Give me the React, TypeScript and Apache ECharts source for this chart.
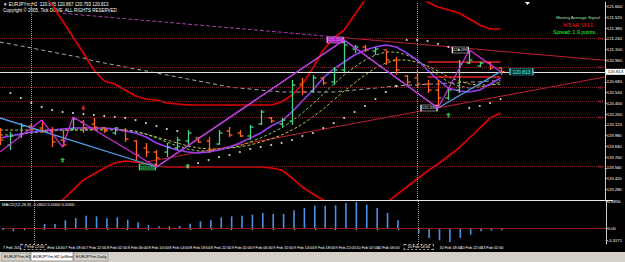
import React, { useEffect, useRef } from "react";
import * as echarts from "echarts";

// ---------- data ----------
const times = [
  "7 Feb 2017", "7 Feb 08:00", "7 Feb 10:00", "7 Feb 12:00", "7 Feb 14:00", "7 Feb 16:00", "7 Feb 18:00", "7 Feb 20:00", "7 Feb 22:00",
  "8 Feb 00:00", "8 Feb 02:00", "8 Feb 04:00", "8 Feb 06:00", "8 Feb 08:00", "8 Feb 10:00", "8 Feb 12:00", "8 Feb 14:00", "8 Feb 16:00",
  "8 Feb 18:00", "8 Feb 20:00", "8 Feb 22:00", "9 Feb 00:00", "9 Feb 02:00", "9 Feb 04:00", "9 Feb 06:00", "9 Feb 08:00", "9 Feb 10:00",
  "9 Feb 12:00", "9 Feb 14:00", "9 Feb 16:00", "9 Feb 18:00", "9 Feb 20:00", "9 Feb 22:00", "10 Feb 00:00", "10 Feb 02:00", "10 Feb 04:00",
  "10 Feb 06:00", "10 Feb 08:00", "10 Feb 10:00", "10 Feb 12:00", "10 Feb 14:00", "10 Feb 16:00", "10 Feb 18:00", "10 Feb 20:00",
  "10 Feb 22:00", "13 Feb 00:00", "13 Feb 02:00", "13 Feb 04:00", "13 Feb 06:00",
];
const futureSlots = ["", "", "", "", "", "", "", "", "", ""];
const hiddenTimeLabels = ["7 Feb 10:00", "10 Feb 10:00", "10 Feb 14:00"];

const openP = [120.026, 119.857, 119.974, 120.104, 120.078, 120.039, 119.922, 120.065, 120.156, 120.130, 120.078, 120.013, 120.052, 119.909, 119.818, 119.765, 119.765, 119.818, 119.909, 119.948, 119.909, 119.870, 120.039, 120.013, 119.974, 120.130, 120.209, 120.130, 120.169, 120.651, 120.560, 120.730, 120.678, 120.834, 121.108, 121.134, 121.081, 121.095, 120.964, 120.756, 120.730, 120.651, 120.573, 120.469, 120.573, 120.925, 120.886, 120.925, 120.860];
const highP = [120.078, 120.026, 120.143, 120.143, 120.182, 120.091, 120.052, 120.222, 120.182, 120.209, 120.091, 120.091, 120.078, 119.922, 119.883, 119.791, 119.883, 119.961, 120.052, 119.961, 119.961, 120.052, 120.091, 120.052, 120.117, 120.313, 120.222, 120.209, 120.704, 120.730, 120.769, 120.743, 120.873, 121.225, 121.160, 121.160, 121.134, 121.095, 121.003, 120.769, 120.834, 120.704, 120.704, 120.612, 120.964, 121.095, 120.938, 120.938, 120.865];
const lowP = [119.857, 119.791, 119.948, 120.052, 120.013, 119.831, 119.831, 120.052, 120.013, 120.052, 120.013, 119.987, 119.896, 119.661, 119.700, 119.570, 119.700, 119.791, 119.831, 119.883, 119.752, 119.857, 119.961, 119.961, 119.922, 120.117, 120.143, 120.091, 120.117, 120.508, 120.534, 120.638, 120.638, 120.808, 121.055, 121.068, 121.029, 120.899, 120.769, 120.638, 120.599, 120.534, 120.339, 120.443, 120.534, 120.912, 120.873, 120.834, 120.769];
const closeP = [119.922, 119.974, 120.104, 120.065, 120.039, 119.896, 119.857, 120.196, 120.078, 120.091, 120.039, 120.078, 119.935, 119.726, 119.765, 119.687, 119.831, 119.922, 120.013, 119.896, 119.791, 120.013, 119.987, 119.974, 120.091, 120.287, 120.169, 120.182, 120.638, 120.547, 120.730, 120.665, 120.834, 121.160, 121.134, 121.095, 121.108, 120.964, 120.834, 120.678, 120.651, 120.573, 120.469, 120.573, 120.912, 120.964, 120.925, 120.860, 120.813];

const upperBand = [122.528, 122.398, 122.267, 122.059, 121.850, 121.681, 121.472, 121.264, 121.055, 120.834, 120.691, 120.651, 120.573, 120.495, 120.456, 120.443, 120.404, 120.391, 120.378, 120.378, 120.378, 120.378, 120.378, 120.378, 120.378, 120.378, 120.378, 120.417, 120.508, 120.651, 120.860, 121.095, 121.251, 121.355, 121.551, 121.746, 121.876, 121.941, 121.941, 121.902, 121.824, 121.720, 121.655, 121.616, 121.577, 121.498, 121.420, 121.368, 121.368];
const lowerBand = [118.358, 118.489, 118.619, 118.814, 118.984, 119.075, 119.140, 119.270, 119.401, 119.479, 119.557, 119.622, 119.648, 119.635, 119.609, 119.583, 119.570, 119.570, 119.570, 119.570, 119.570, 119.570, 119.570, 119.570, 119.570, 119.570, 119.557, 119.531, 119.427, 119.309, 119.218, 119.140, 119.049, 118.958, 118.932, 118.906, 118.984, 119.101, 119.205, 119.309, 119.414, 119.518, 119.609, 119.713, 119.818, 119.948, 120.078, 120.209, 120.274];

const maPurple = [119.948, 119.974, 120.000, 120.026, 120.039, 120.052, 120.065, 120.078, 120.078, 120.078, 120.078, 120.065, 120.039, 120.013, 119.961, 119.883, 119.831, 119.791, 119.765, 119.752, 119.765, 119.791, 119.831, 119.883, 119.948, 120.013, 120.104, 120.169, 120.287, 120.430, 120.573, 120.730, 120.847, 120.938, 121.029, 121.095, 121.134, 121.160, 121.134, 121.055, 120.964, 120.834, 120.704, 120.599, 120.560, 120.547, 120.573, 120.651, 120.730];
const maGreen = [119.987, 119.987, 120.000, 120.013, 120.026, 120.039, 120.052, 120.052, 120.052, 120.065, 120.065, 120.065, 120.052, 120.039, 120.000, 119.948, 119.896, 119.844, 119.805, 119.779, 119.779, 119.791, 119.818, 119.844, 119.896, 119.948, 120.013, 120.078, 120.169, 120.274, 120.391, 120.521, 120.651, 120.769, 120.873, 120.964, 121.029, 121.068, 121.068, 121.029, 120.964, 120.873, 120.769, 120.678, 120.625, 120.599, 120.612, 120.638, 120.678];
const maYellow = [120.052, 120.052, 120.052, 120.052, 120.052, 120.052, 120.052, 120.052, 120.052, 120.052, 120.052, 120.052, 120.039, 120.026, 120.000, 119.961, 119.922, 119.883, 119.844, 119.818, 119.805, 119.805, 119.818, 119.831, 119.857, 119.896, 119.935, 119.987, 120.052, 120.130, 120.222, 120.326, 120.443, 120.560, 120.665, 120.769, 120.860, 120.925, 120.964, 120.964, 120.938, 120.886, 120.821, 120.743, 120.691, 120.651, 120.638, 120.638, 120.651];
const maGray = [121.199, 121.173, 121.147, 121.121, 121.095, 121.068, 121.042, 121.016, 120.990, 120.951, 120.925, 120.899, 120.873, 120.847, 120.821, 120.795, 120.769, 120.743, 120.717, 120.691, 120.665, 120.638, 120.612, 120.599, 120.586, 120.573, 120.560, 120.547, 120.547, 120.547, 120.547, 120.547, 120.547, 120.560, 120.573, 120.586, 120.599, 120.612, 120.625, 120.638, 120.638, 120.651, 120.651, 120.665, 120.665, 120.678, 120.678, 120.691, 120.691];

const sar = [null, 120.534, 120.469, 120.404, 120.352, 120.313, 120.287, 120.274, 120.261, 120.248, 120.235, 120.222, 120.209, 120.182, 120.143, 120.104, 120.065, 120.039, 119.570, 119.622, 119.661, 119.700, 119.726, 119.765, 119.805, 119.831, 119.857, 119.883, 119.922, 119.974, 120.013, 120.078, 120.143, 120.209, 120.287, 120.365, 120.456, 120.547, 120.625, 121.225, 121.225, 121.212, 121.173, 121.134, 121.095, 120.339, 120.365, 120.404, 120.456];

const macd = [-0.039, -0.086, -0.026, 0.008, 0.104, 0.104, 0.200, 0.260, 0.320, 0.304, 0.252, 0.278, 0.216, 0.148, 0.078, 0.044, 0.044, 0.052, 0.112, 0.174, 0.200, 0.278, 0.304, 0.320, 0.346, 0.390, 0.364, 0.364, 0.460, 0.520, 0.580, 0.580, 0.590, 0.650, 0.676, 0.606, 0.520, 0.390, 0.200, -0.013, -0.130, -0.260, -0.320, -0.372, -0.260, -0.174, -0.086, -0.070, -0.060];

const zigBlue = [[0, 120.209], [15, 119.570], [33, 121.225], [42, 120.339], [48, 120.813]];
const zigMagenta = [[0, 119.765], [4, 120.182], [6, 119.831], [7, 120.222], [15, 119.570], [33, 121.225], [42, 120.339], [45, 121.095], [48, 120.813]];

const buyArrows = [[6, 119.661], [18, 119.583], [43, 120.248]];
const sellArrows = [[8, 120.339]];

const pivotNames = ["R1", "PP", "S1", "S2", "S3", "S4"];
const pivotValues = [121.251, 120.873, 120.612, 120.430, 120.222, 119.583];

const dailyLines = [120.938, 120.743];
const downTrend = [[6, 121.573], [33, 121.255]];
const downTrendExt = [[33, 121.255], [58, 120.960]];
const upTrend = [[14, 119.635], [58, 120.743]];

const lastPrice = 120.813;
const macdLabels = [0.6856, 0, -0.3171];
const vLines = [3, 40];
const vLineLabels = ["7 Feb 12:00", "10 Feb 14:00"];

const UP = "#46d48a";
const DOWN = "#ff6424";
const FONT = "'Liberation Sans Narrow','Liberation Sans',sans-serif";

export default function App() {
  const ref = useRef<HTMLDivElement>(null);
  useEffect(() => {
    if (!ref.current) return;
    const chart = echarts.init(ref.current, null, { renderer: "svg" });
    const categories = [...times, ...futureSlots];
    const ohlc = times.map((_, i) => [i, openP[i], highP[i], lowP[i], closeP[i]]);
    const idx = (arr: (number | null)[]) => arr.map((v, i) => [i, v]);

    const zigLabel = (coord: number[], color: string, bg: string) => ({
      coord,
      symbol: "rect",
      symbolSize: [16, 6],
      symbolOffset: [-9, 0],
      itemStyle: { color: bg, borderColor: color, borderWidth: 0.8 },
      label: { show: true, position: "inside", formatter: coord[1].toFixed(3), color, fontSize: 4, fontFamily: FONT },
    });

    const option: any = {
      animation: false,
      backgroundColor: "#000",
      grid: [
        { left: 0, top: 2, width: 613, height: 198 },
        { left: 0, top: 201, width: 613, height: 43 },
      ],
      xAxis: [
        { type: "category", gridIndex: 0, data: categories, boundaryGap: false, axisLine: { show: false }, axisTick: { show: false }, axisLabel: { show: false } },
        {
          type: "category", gridIndex: 1, data: categories, boundaryGap: false,
          axisLine: { show: true, lineStyle: { color: "#bbb", width: 1 } },
          axisTick: { show: true, length: 2, interval: (i: number, v: string) => i % 2 === 0 && v !== "", lineStyle: { color: "#bbb" } },
          axisLabel: {
            show: true, color: "#fff", fontSize: 3.8, fontFamily: FONT, align: "left", margin: 2, hideOverlap: false,
            interval: (i: number, v: string) => i % 2 === 0 && v !== "" && !hiddenTimeLabels.includes(v),
          },
        },
      ],
      yAxis: [
        {
          type: "value", gridIndex: 0, position: "right", min: 119.14, max: 121.72, interval: 0.14,
          axisLine: { show: true, lineStyle: { color: "#ccc" } },
          axisTick: { show: true, length: 2, lineStyle: { color: "#ccc" } },
          axisLabel: { color: "#fff", fontSize: 4.2, fontFamily: FONT, margin: 2, showMinLabel: false, showMaxLabel: false, formatter: (v: number) => v.toFixed(3) },
          splitLine: { show: false },
        },
        {
          type: "value", gridIndex: 1, position: "right", min: -0.416, max: 0.702,
          axisLine: { show: true, lineStyle: { color: "#ccc" } },
          axisTick: { show: true, length: 2, customValues: macdLabels, lineStyle: { color: "#ccc" } },
          axisLabel: { color: "#fff", fontSize: 4.2, fontFamily: FONT, margin: 2, customValues: macdLabels, formatter: (v: number) => (v === 0 ? "0.00" : v.toFixed(4)) },
          splitLine: { show: false },
        },
      ],
      series: [
        {
          name: "upperBand", type: "line", xAxisIndex: 0, yAxisIndex: 0, data: upperBand, showSymbol: false, z: 2,
          lineStyle: { color: "#e00000", width: 1.7 },
          markLine: {
            silent: true, symbol: "none",
            lineStyle: { color: "#7a1f2c", type: "dotted", width: 1 },
            label: { show: true, position: "insideEnd", color: "#a8304a", fontSize: 4, fontFamily: FONT, distance: 2 },
            data: pivotValues.map((v, k) => ({ yAxis: v, name: pivotNames[k], label: { formatter: pivotNames[k] } })),
          },
        },
        { name: "lowerBand", type: "line", xAxisIndex: 0, yAxisIndex: 0, data: lowerBand, showSymbol: false, z: 2, lineStyle: { color: "#e00000", width: 1.7 } },
        { name: "maGray", type: "line", data: maGray, showSymbol: false, z: 2, lineStyle: { color: "#a8a8a8", width: 1, type: [4, 3] } },
        { name: "maYellow", type: "line", data: maYellow, showSymbol: false, z: 3, lineStyle: { color: "#c8b83a", width: 1, type: [3, 2] } },
        { name: "maGreen", type: "line", data: maGreen, showSymbol: false, z: 3, lineStyle: { color: "#7ccc6a", width: 1, type: [3, 2] } },
        { name: "maPurple", type: "line", data: maPurple, showSymbol: false, z: 4, lineStyle: { color: "#9a3cf0", width: 1.6 } },
        { name: "downTrend", type: "line", data: downTrend, showSymbol: false, z: 2, lineStyle: { color: "#a040a8", width: 1, type: [4, 2] } },
        { name: "downTrendExt", type: "line", data: downTrendExt, showSymbol: false, z: 2, lineStyle: { color: "#c02030", width: 1 } },
        { name: "upTrend", type: "line", data: upTrend, showSymbol: false, z: 2, lineStyle: { color: "#c02030", width: 1 } },
        ...dailyLines.map((v) => ({ type: "line", data: [[41, v], [48, v]], showSymbol: false, z: 3, lineStyle: { color: "#e82020", width: 1.4 } })),
        {
          name: "price", type: "line", data: [], showSymbol: false,
          markLine: {
            silent: true, symbol: "none",
            lineStyle: { color: "#e0e0e0", type: "solid", width: 1 },
            label: { show: true, position: "end", formatter: lastPrice.toFixed(3), color: "#000", backgroundColor: "#fff", fontSize: 4.2, fontFamily: FONT, padding: [1, 2], distance: 1 },
            data: [{ yAxis: lastPrice }],
          },
          markPoint: {
            silent: true,
            data: [{
              coord: [50, lastPrice], symbol: "rect", symbolSize: [23, 7],
              itemStyle: { color: "#003a3a", borderColor: "#3cc8c8", borderWidth: 0.8 },
              label: { show: true, position: "inside", formatter: lastPrice.toFixed(3), color: "#5ff0f0", fontSize: 5, fontFamily: FONT },
            }],
          },
        },
        {
          name: "sar", type: "scatter", data: idx(sar), symbol: "circle", symbolSize: 2.2, z: 5,
          itemStyle: { color: "#f0f0d8" },
        },
        { name: "zigBlue", type: "line", data: zigBlue, showSymbol: false, z: 6, lineStyle: { color: "#4f9fe8", width: 1.3 } },
        {
          name: "zigMagenta", type: "line", data: zigMagenta, showSymbol: false, z: 6, lineStyle: { color: "#d22ad8", width: 1.3 },
          markPoint: {
            silent: true,
            data: [
              zigLabel([15, 119.570], "#46e070", "#0a3a14"),
              zigLabel([33, 121.225], "#e8a0f0", "#a020b0"),
              zigLabel([42, 120.339], "#f0f0f0", "#000"),
              zigLabel([45, 121.095], "#f0f0f0", "#000"),
            ],
          },
        },
        {
          name: "bars", type: "custom", xAxisIndex: 0, yAxisIndex: 0, data: ohlc, z: 5,
          encode: { x: 0, y: [1, 2, 3, 4] },
          renderItem: (params: any, api: any) => {
            const i = api.value(0);
            const o = api.coord([i, api.value(1)]);
            const h = api.coord([i, api.value(2)]);
            const l = api.coord([i, api.value(3)]);
            const c = api.coord([i, api.value(4)]);
            const col = api.value(4) >= api.value(1) ? UP : DOWN;
            const x = Math.round(o[0]) + 0.5;
            const st = { stroke: col, lineWidth: 1.3 };
            return {
              type: "group",
              children: [
                { type: "line", shape: { x1: x, y1: h[1], x2: x, y2: l[1] }, style: st },
                { type: "line", shape: { x1: x - 3, y1: o[1], x2: x, y2: o[1] }, style: st },
                { type: "line", shape: { x1: x, y1: c[1], x2: x + 3, y2: c[1] }, style: st },
              ],
            };
          },
          markLine: {
            silent: true, symbol: "none", label: { show: false },
            lineStyle: { color: "#9a9a9a", type: "dotted", width: 1 },
            data: vLines.map((v) => ({ xAxis: v })),
          },
        },
        {
          name: "buy", type: "scatter", data: buyArrows, z: 7, symbolSize: 5,
          symbol: "path://M5,0 L10,5 L7,5 L7,10 L3,10 L3,5 L0,5 Z", itemStyle: { color: "#3ee05a" },
        },
        {
          name: "sell", type: "scatter", data: sellArrows, z: 7, symbolSize: 5, symbolRotate: 180,
          symbol: "path://M5,0 L10,5 L7,5 L7,10 L3,10 L3,5 L0,5 Z", itemStyle: { color: "#ff3030" },
        },
        {
          name: "MACD", type: "bar", xAxisIndex: 1, yAxisIndex: 1, data: macd, barWidth: 1.6, z: 3,
          itemStyle: { color: "#4a92e4" },
          markLine: {
            silent: true, symbol: "none",
            data: [
              { yAxis: 0, lineStyle: { color: "#8a1c1c", type: "solid", width: 1 }, label: { show: false } },
              ...vLines.map((v, k) => ({
                xAxis: v,
                lineStyle: { color: "#9a9a9a", type: "dotted", width: 1 },
                label: {
                  show: true, position: "start", formatter: vLineLabels[k], color: "#fff", fontSize: 3.8, fontFamily: FONT,
                  backgroundColor: "#000", borderColor: "#aaa", borderType: "dotted", borderWidth: 1, padding: [0, 3], distance: 1,
                },
              })),
            ],
          },
        },
      ],
      graphic: [
        { type: "line", shape: { x1: 0, y1: 200.5, x2: 613, y2: 200.5 }, style: { stroke: "#e8e8e8", lineWidth: 1 }, z: 10 },
        { type: "text", x: 3, y: 2, style: { text: "▼ EURJPYm,H2  120.845 120.867 120.793 120.813", fill: "#fff", fontSize: 4.5, fontFamily: FONT } },
        { type: "text", x: 3, y: 8, style: { text: "Copyright © 2005, Tick DOVE  ALL RIGHTS RESERVED", fill: "#fff", fontSize: 4.5, fontFamily: FONT } },
        { type: "text", x: 2, y: 202.5, style: { text: "MACD(12,26,9) -0.0602 0.0000 0.0000", fill: "#fff", fontSize: 4.2, fontFamily: FONT } },
        { type: "text", x: 556, y: 15, style: { text: "Moving Average Signal", fill: "#b0e0b0", fontSize: 4.3, fontFamily: FONT } },
        { type: "text", x: 563, y: 22, style: { text: "WEAK SELL", fill: "#ff2020", fontSize: 5.5, fontFamily: "'Liberation Serif',serif" } },
        { type: "text", x: 553, y: 29.5, style: { text: "Spread: 1.9 points.", fill: "#20ff20", fontSize: 5.2, fontFamily: FONT } },
        { type: "polygon", shape: { points: [[525, 2], [530, 2], [527.5, 5]] }, style: { fill: "#fff" } },
        { type: "rect", shape: { x: 0, y: 252, width: 625, height: 10 }, style: { fill: "#d4d0c8" } },
        { type: "rect", shape: { x: 2, y: 253, width: 28, height: 8 }, style: { fill: "#d4d0c8", stroke: "#888", lineWidth: 0.6 } },
        { type: "text", x: 4, y: 254.5, style: { text: "EURJPYm,H1", fill: "#000", fontSize: 4.2, fontFamily: FONT } },
        { type: "rect", shape: { x: 31, y: 252, width: 42, height: 9 }, style: { fill: "#fff", stroke: "#666", lineWidth: 0.6 } },
        { type: "text", x: 33, y: 254.5, style: { text: "EURJPYm,H2 (offline)", fill: "#000", fontSize: 4.2, fontFamily: FONT } },
        { type: "rect", shape: { x: 74, y: 253, width: 34, height: 8 }, style: { fill: "#d4d0c8", stroke: "#888", lineWidth: 0.6 } },
        { type: "text", x: 76, y: 254.5, style: { text: "EURJPYm,Daily", fill: "#000", fontSize: 4.2, fontFamily: FONT } },
      ],
    };
    chart.setOption(option);
    return () => chart.dispose();
  }, []);
  return <div ref={ref} style={{ position: "fixed", left: 0, top: 0, width: 625, height: 262, background: "#000" }} />;
}
